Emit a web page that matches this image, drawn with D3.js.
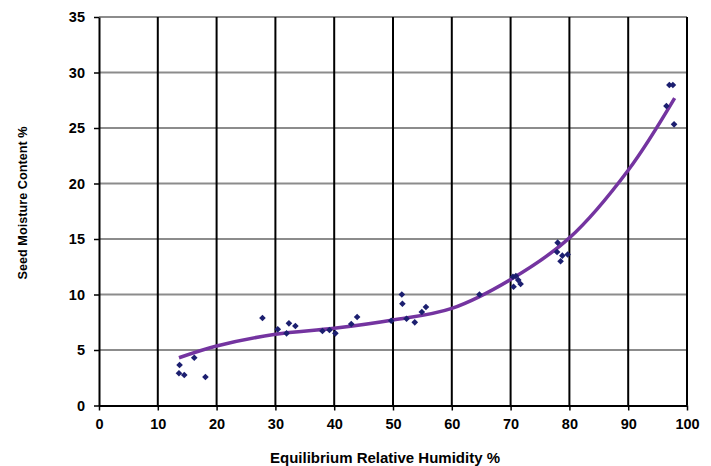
<!DOCTYPE html>
<html>
<head>
<meta charset="utf-8">
<script src="https://cdn.jsdelivr.net/npm/d3@7"></script>
<style>
  body { margin: 0; background: #fff; }
  text { font-family: "Liberation Sans", Arial, sans-serif; font-weight: bold; }
</style>
</head>
<body>
<div id="chart"></div>
<script>
// observed data (ERH %, seed moisture %)
var erh = [13.7, 13.6, 14.5, 16.2, 18.1, 27.8, 30.4, 31.9, 32.3, 33.4,
           38.0, 39.2, 40.2, 42.9, 43.9, 49.7, 51.5, 51.6, 52.3, 53.7, 54.9, 55.6,
           64.7, 70.4, 70.9, 70.5, 71.3, 71.7,
           78.0, 77.9, 78.8, 79.7, 78.5,
           97.0, 97.6, 96.5, 97.8];
var moisture = [3.65, 2.9, 2.75, 4.3, 2.57, 7.88, 6.86, 6.5, 7.4, 7.16,
                6.71, 6.8, 6.5, 7.34, 7.97, 7.64, 10.0, 9.17, 7.82, 7.49, 8.42, 8.87,
                10.0, 11.6, 11.67, 10.7, 11.3, 10.95,
                14.67, 13.83, 13.5, 13.6, 13.0,
                28.87, 28.87, 26.98, 25.33];

// trend line
var trendX = [13.6, 20, 30, 40, 50, 60, 70, 80, 90, 97.9];
var trendY = [4.3, 5.36, 6.41, 6.95, 7.7, 8.75, 11.35, 15.1, 21.2, 27.7];

var xTicks = [0, 10, 20, 30, 40, 50, 60, 70, 80, 90, 100];
var yTicks = [0, 5, 10, 15, 20, 25, 30, 35];

var margin = {top: 17, right: 24, bottom: 60.5, left: 99};
var width = 711 - margin.left - margin.right;
var height = 466 - margin.top - margin.bottom;

var svg = d3.select("#chart")
  .append("svg")
    .attr("width", 711)
    .attr("height", 466)
  .append("g")
    .attr("transform", "translate(" + margin.left + "," + margin.top + ")");

var xScale = d3.scaleLinear().domain([0, 100]).range([0, width]);
var yScale = d3.scaleLinear().domain([0, 35]).range([height, 0]);

// horizontal gridlines (grey)
svg.append("g")
  .selectAll("line")
  .data(yTicks.filter(function(d) { return d > 0; }))
  .enter().append("line")
    .attr("x1", 0).attr("x2", width)
    .attr("y1", function(d) { return yScale(d); })
    .attr("y2", function(d) { return yScale(d); })
    .style("stroke", "#8c8c8c")
    .style("stroke-width", 2);

// vertical gridlines (black)
svg.append("g")
  .selectAll("line")
  .data(xTicks.filter(function(d) { return d > 0; }))
  .enter().append("line")
    .attr("x1", function(d) { return xScale(d); })
    .attr("x2", function(d) { return xScale(d); })
    .attr("y1", 0).attr("y2", height)
    .style("stroke", "#000")
    .style("stroke-width", 2);

// axes
var xAxis = svg.append("g")
  .attr("transform", "translate(0," + height + ")")
  .call(d3.axisBottom(xScale).tickValues(xTicks).tickSize(5).tickSizeOuter(0).tickPadding(8));
var yAxis = svg.append("g")
  .call(d3.axisLeft(yScale).tickValues(yTicks).tickSize(5).tickSizeOuter(0).tickPadding(9));

[xAxis, yAxis].forEach(function(a) {
  a.select(".domain").style("stroke", "#000").style("stroke-width", 2);
  a.selectAll(".tick line").style("stroke", "#000").style("stroke-width", 1.5);
  a.selectAll(".tick text")
    .style("font-family", "'Liberation Sans', Arial, sans-serif")
    .style("font-weight", "bold")
    .style("font-size", "14.5px")
    .style("fill", "#000");
});

// trend line
var trend = trendX.map(function(x, i) { return [x, trendY[i]]; });
svg.append("path")
  .datum(trend)
  .attr("d", d3.line()
    .x(function(d) { return xScale(d[0]); })
    .y(function(d) { return yScale(d[1]); })
    .curve(d3.curveCatmullRom))
  .style("fill", "none")
  .style("stroke", "#7434a0")
  .style("stroke-width", 3.5);

// points
var pts = erh.map(function(x, i) { return [x, moisture[i]]; });
svg.append("g")
  .selectAll("path")
  .data(pts)
  .enter().append("path")
    .attr("d", d3.symbol().type(d3.symbolDiamond2).size(28))
    .attr("transform", function(d) { return "translate(" + xScale(d[0]) + "," + yScale(d[1]) + ")"; })
    .style("fill", "#1c1f70");

// axis titles
svg.append("text")
  .attr("x", 385 - margin.left)
  .attr("y", 463 - margin.top)
  .attr("text-anchor", "middle")
  .style("font-size", "15px")
  .text("Equilibrium Relative Humidity %");

svg.append("text")
  .attr("transform", "rotate(-90)")
  .attr("x", -(203 - margin.top))
  .attr("y", -72.5)
  .attr("text-anchor", "middle")
  .style("font-size", "12.7px")
  .text("Seed Moisture Content %");
</script>
</body>
</html>
